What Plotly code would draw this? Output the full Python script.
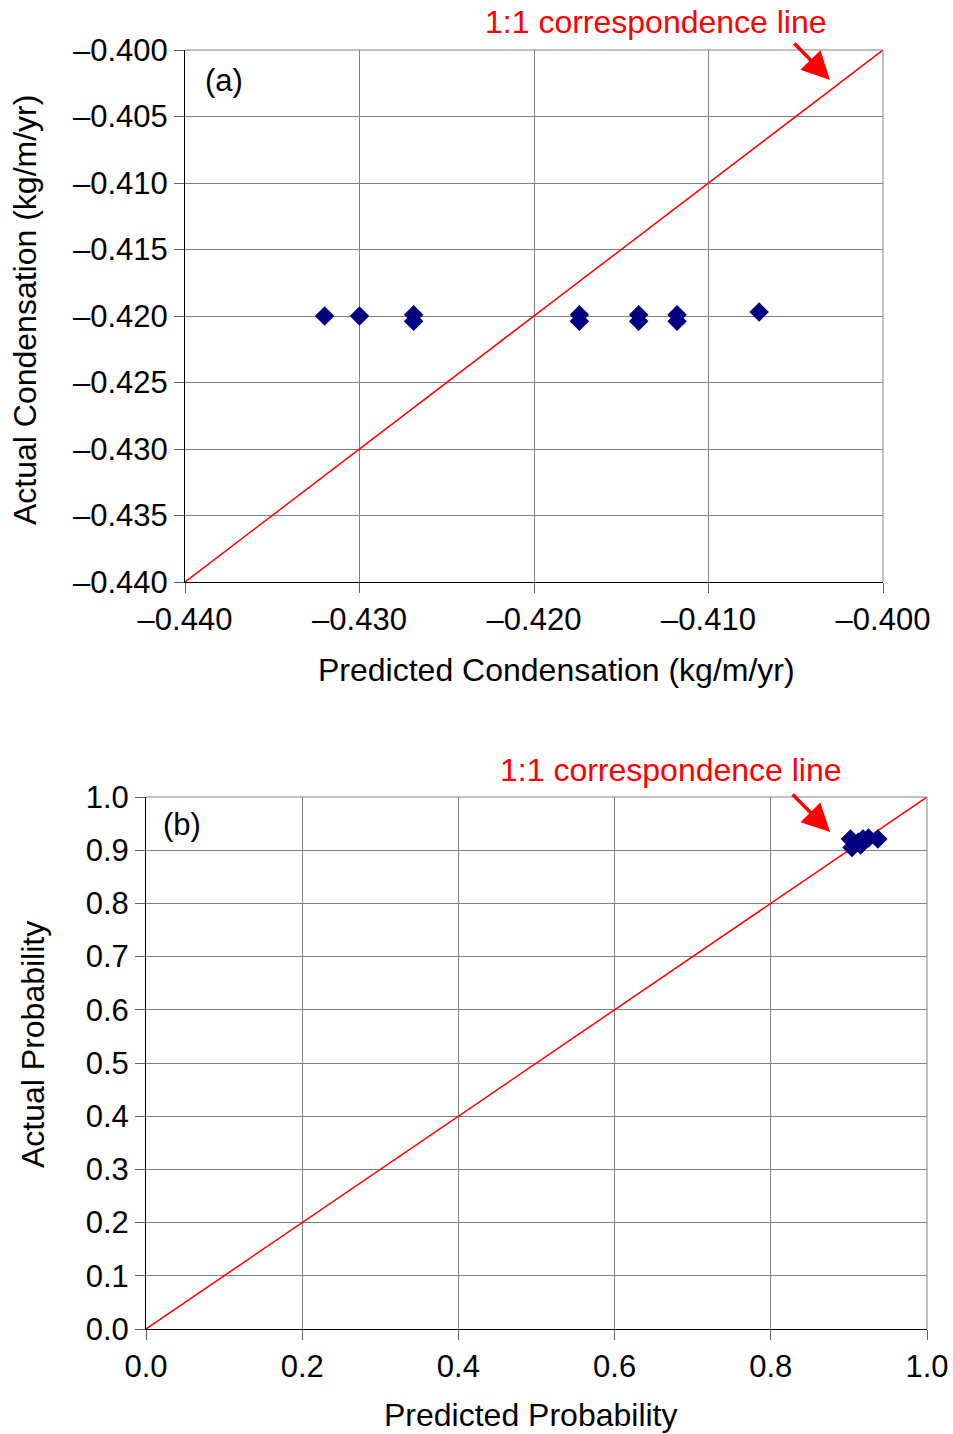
import plotly.graph_objects as go

# ---- data: panel (a) condensation ----
pred_cond = [-0.4320, -0.4300, -0.4269, -0.4269, -0.4174, -0.4174, -0.4140, -0.4140, -0.4118, -0.4118, -0.4071]
act_cond = [-0.4200, -0.4200, -0.4199, -0.4204, -0.4199, -0.4204, -0.4199, -0.4204, -0.4199, -0.4204, -0.4197]
cond_line = [-0.440, -0.400]
cond_ticks = [-0.440, -0.435, -0.430, -0.425, -0.420, -0.415, -0.410, -0.405, -0.400]
cond_xticks = [-0.440, -0.430, -0.420, -0.410, -0.400]

# ---- data: panel (b) probability ----
pred_prob = [0.902, 0.904, 0.912, 0.918, 0.925, 0.937, 0.915]
act_prob = [0.921, 0.905, 0.915, 0.921, 0.923, 0.921, 0.910]
prob_line = [0.0, 1.0]
prob_yticks = [0.0, 0.1, 0.2, 0.3, 0.4, 0.5, 0.6, 0.7, 0.8, 0.9, 1.0]
prob_xticks = [0.0, 0.2, 0.4, 0.6, 0.8, 1.0]

W, H = 953, 1434
FONT = "Liberation Sans, Arial, sans-serif"
TICK = 31
NAVY = "#000080"
GRID = "#808080"

def lab(v, fmt):
    return (fmt % v).replace("-", "\u2013")

fig = go.Figure()
fig.add_trace(go.Scatter(x=cond_line, y=cond_line, mode="lines",
                         line=dict(color="red", width=1.5), xaxis="x", yaxis="y", showlegend=False))
fig.add_trace(go.Scatter(x=pred_cond, y=act_cond, mode="markers",
                         marker=dict(symbol="diamond", size=15, color=NAVY),
                         xaxis="x", yaxis="y", showlegend=False, cliponaxis=False))
fig.add_trace(go.Scatter(x=prob_line, y=prob_line, mode="lines",
                         line=dict(color="red", width=1.5), xaxis="x2", yaxis="y2", showlegend=False))
fig.add_trace(go.Scatter(x=pred_prob, y=act_prob, mode="markers",
                         marker=dict(symbol="diamond", size=15, color=NAVY),
                         xaxis="x2", yaxis="y2", showlegend=False, cliponaxis=False))

axcommon = dict(showgrid=True, gridcolor=GRID, gridwidth=1, zeroline=False,
                showline=True, linecolor="black", linewidth=1,
                ticks="outside", ticklen=10, tickcolor="#606060", tickwidth=1,
                tickfont=dict(family=FONT, size=TICK, color="black"),
                tickmode="array", automargin=False)

fig.update_layout(
    width=W, height=H,
    margin=dict(l=0, r=0, t=0, b=0),
    paper_bgcolor="white", plot_bgcolor="white",
    font=dict(family=FONT, size=TICK, color="black"),
    xaxis=dict(domain=[185 / W, 883 / W], range=[-0.440, -0.400], anchor="y",
               tickvals=cond_xticks, ticktext=[lab(v, "%.3f") for v in cond_xticks], **axcommon),
    yaxis=dict(domain=[1 - 582 / H, 1 - 50 / H], range=[-0.440, -0.400], anchor="x",
               tickvals=cond_ticks, ticktext=[lab(v, "%.3f") for v in cond_ticks], **axcommon),
    xaxis2=dict(domain=[146 / W, 927 / W], range=[0, 1], anchor="y2",
                tickvals=prob_xticks, ticktext=[lab(v, "%.1f") for v in prob_xticks], **axcommon),
    yaxis2=dict(domain=[1 - 1329 / H, 1 - 797 / H], range=[0, 1], anchor="x2",
                tickvals=prob_yticks, ticktext=[lab(v, "%.1f") for v in prob_yticks], **axcommon),
)

# right-hand / top plot-area borders (gray, like the gridlines)
for xr, yr in (("x domain", "y domain"), ("x2 domain", "y2 domain")):
    fig.add_shape(type="line", xref=xr, yref=yr, x0=1, x1=1, y0=0, y1=1,
                  line=dict(color=GRID, width=1))
    fig.add_shape(type="line", xref=xr, yref=yr, x0=0, x1=1, y0=1, y1=1,
                  line=dict(color=GRID, width=1))

ann = []
# panel labels
ann.append(dict(text="(a)", x=-0.43777, y=-0.40226, xref="x", yref="y", showarrow=False,
                font=dict(family=FONT, size=TICK, color="black")))
ann.append(dict(text="(b)", x=0.046, y=0.949, xref="x2", yref="y2", showarrow=False,
                font=dict(family=FONT, size=TICK, color="black")))
# 1:1 line callouts
ann.append(dict(text="1:1 correspondence line", x=656 / W, y=1 - 22 / H, xref="paper", yref="paper",
                xanchor="center", yanchor="middle",
                showarrow=False, font=dict(family=FONT, size=32, color="red")))
ann.append(dict(text="", x=-0.40304, y=-0.40226, xref="x", yref="y", showarrow=True,
                ax=-37, ay=-38, arrowhead=2, arrowsize=1.6, arrowwidth=3.5, arrowcolor="red"))
ann.append(dict(text="1:1 correspondence line", x=671 / W, y=1 - 770 / H, xref="paper", yref="paper",
                xanchor="center", yanchor="middle",
                showarrow=False, font=dict(family=FONT, size=32, color="red")))
ann.append(dict(text="", x=0.876, y=0.934, xref="x2", yref="y2", showarrow=True,
                ax=-39, ay=-39, arrowhead=2, arrowsize=1.6, arrowwidth=3.5, arrowcolor="red"))
# axis titles
for txt, px, py, ang in (("Predicted Condensation (kg/m/yr)", 556, 670, 0),
                         ("Actual Condensation (kg/m/yr)", 25, 310, -90),
                         ("Predicted Probability", 530, 1415, 0),
                         ("Actual Probability", 33, 1045, -90)):
    ann.append(dict(text=txt, x=px / W, y=1 - py / H, xref="paper", yref="paper",
                    xanchor="center", yanchor="middle", textangle=ang,
                    showarrow=False, font=dict(family=FONT, size=32, color="black")))
fig.update_layout(annotations=ann)

fig.write_html("out.html", config={"displayModeBar": False},
               post_script="document.body.style.margin='0';document.body.style.overflow='hidden';")
